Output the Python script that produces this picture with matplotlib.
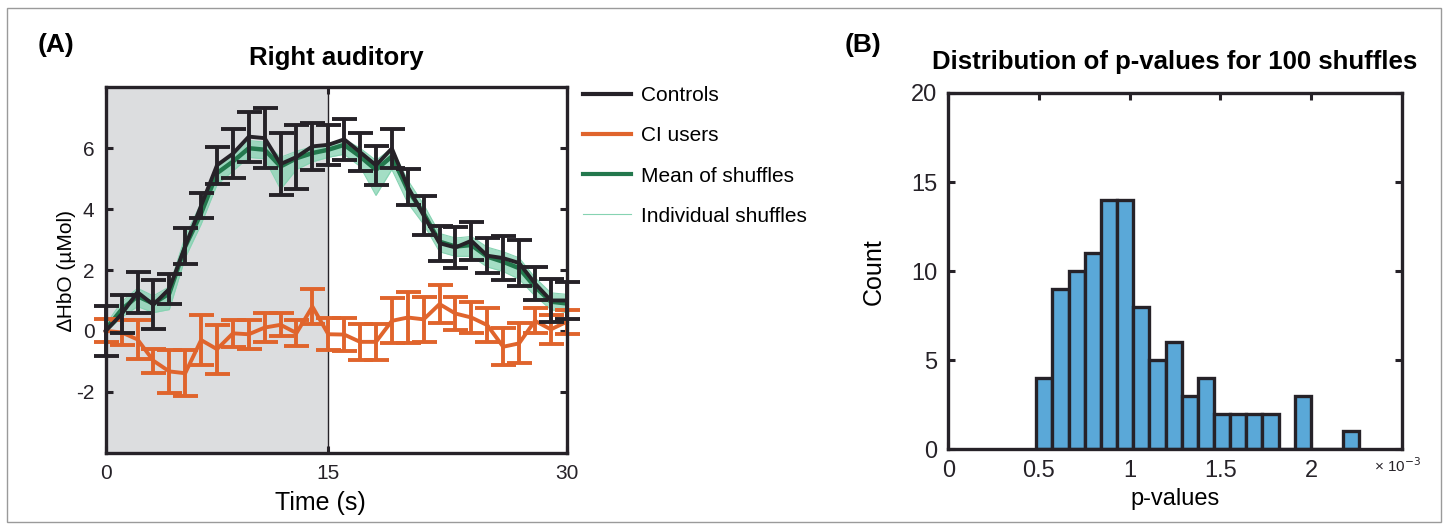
import numpy as np
import matplotlib
matplotlib.use("Agg")
import matplotlib.pyplot as plt
from matplotlib.lines import Line2D
from matplotlib.patches import Rectangle

plt.rcParams['font.family'] = ['Liberation Sans', 'DejaVu Sans']
plt.rcParams['axes.unicode_minus'] = False

# ---- panel A data (30 samples) ----
sample_idx = np.arange(30)
tick_pos = [0, 14, 29]
tick_lab = ['0', '15', '30']
stim_end = 14

controls_mean = [0.0, 0.55, 1.27, 0.86, 1.38, 2.78, 4.11, 5.44, 5.82, 6.38,
                 6.33, 5.48, 5.71, 6.06, 6.11, 6.29, 5.87, 5.44, 5.99, 4.73,
                 3.79, 2.88, 2.74, 2.96, 2.47, 2.39, 2.23, 1.56, 1.0, 1.0]
controls_err = [0.83, 0.63, 0.67, 0.81, 0.49, 0.59, 0.41, 0.6, 0.8, 0.82,
                0.98, 1.01, 1.06, 0.77, 0.66, 0.67, 0.63, 0.64, 0.64, 0.58,
                0.64, 0.57, 0.68, 0.63, 0.57, 0.73, 0.76, 0.55, 0.7, 0.6]

ci_mean = [0.0, -0.05, -0.28, -0.98, -1.33, -1.39, -0.3, -0.6, -0.08, -0.11,
           0.11, 0.2, -0.07, 0.8, -0.11, -0.12, -0.36, -0.36, 0.33, 0.44,
           0.38, 0.88, 0.57, 0.44, 0.19, -0.52, -0.41, 0.33, 0.05, 0.3]
ci_err = [0.38, 0.41, 0.63, 0.4, 0.71, 0.75, 0.82, 0.8, 0.44, 0.47,
          0.47, 0.38, 0.44, 0.58, 0.52, 0.53, 0.6, 0.6, 0.74, 0.85,
          0.74, 0.63, 0.55, 0.52, 0.55, 0.6, 0.66, 0.41, 0.47, 0.4]

shuffle_mean = [0.05, 0.7, 1.14, 0.9, 1.23, 2.77, 3.86, 5.18, 5.56, 6.0,
                5.95, 5.4, 5.67, 5.84, 5.95, 6.11, 5.73, 5.29, 5.73, 4.63,
                3.86, 2.93, 2.77, 2.82, 2.44, 2.27, 2.06, 1.45, 0.96, 0.9]
shuffle_hi = [0.2, 0.95, 1.4, 1.15, 1.45, 3.1, 4.2, 5.45, 5.85, 6.25,
              6.2, 5.7, 5.9, 6.05, 6.15, 6.3, 6.0, 5.6, 6.0, 4.95,
              4.15, 3.2, 3.05, 3.1, 2.75, 2.6, 2.4, 1.75, 1.25, 1.2]
shuffle_lo = [-0.05, 0.45, 0.8, 0.6, 0.7, 2.4, 3.5, 4.8, 5.25, 5.7,
              5.65, 4.65, 5.3, 5.55, 5.7, 5.8, 5.4, 4.45, 5.3, 4.2,
              3.5, 2.6, 2.45, 2.45, 2.1, 1.95, 1.7, 1.15, 0.7, 0.6]

# ---- panel B data: histogram of p-values ----
bin_left = 0.485e-3
bin_width = 0.0891e-3
counts = [4, 9, 10, 11, 14, 14, 8, 5, 6, 3, 4, 2, 2, 2, 2, 0, 3, 0, 0, 1]

BLACK = '#262228'
ORANGE = '#e0642c'
GREEN = '#23784d'
MINT = '#86d3b2'
SHADE = '#dcdddf'
BLUE = '#5aa8d8'
FS = 15

fig = plt.figure(figsize=(14.48, 5.29), dpi=100)
fig.patches.append(Rectangle((0.005, 0.013), 0.99, 0.972, transform=fig.transFigure,
                             fill=False, ec='#9a9a9a', lw=1))

ax1 = fig.add_axes([0.073, 0.1442, 0.3184, 0.6908])
ax1.axvspan(0, stim_end, color=SHADE, lw=0, zorder=0)
ax1.axvline(stim_end, color=BLACK, lw=1, zorder=1)
ax1.fill_between(sample_idx, shuffle_lo, shuffle_hi, color=MINT, alpha=0.75, lw=0, zorder=2)
ax1.plot(sample_idx, shuffle_lo, color=MINT, lw=0.8, zorder=2)
ax1.plot(sample_idx, shuffle_hi, color=MINT, lw=0.8, zorder=2)
ax1.plot(sample_idx, shuffle_mean, color=GREEN, lw=3.2, zorder=3)
ax1.errorbar(sample_idx, ci_mean, yerr=ci_err, color=ORANGE, lw=2.8,
             elinewidth=2.8, capsize=9, capthick=2.8, zorder=4, clip_on=False)
ax1.errorbar(sample_idx, controls_mean, yerr=controls_err, color=BLACK, lw=2.8,
             elinewidth=2.8, capsize=9, capthick=2.8, zorder=5, clip_on=False)

ax1.set_xlim(0, 29)
ax1.set_ylim(-4, 8)
ax1.set_xticks(tick_pos)
ax1.set_xticklabels(tick_lab)
ax1.set_yticks([-2, 0, 2, 4, 6])
ax1.set_xlabel('Time (s)', fontsize=18, labelpad=0)
ax1.xaxis.set_label_coords(0.465, -0.105)
ax1.set_ylabel('\u2206HbO (\u00b5Mol)', fontsize=FS)
ax1.yaxis.set_label_coords(-0.064, 0.5)
ax1.set_title('Right auditory', fontsize=18.5, fontweight='bold', pad=16)

ax2 = fig.add_axes([0.6549, 0.1507, 0.3131, 0.6735])
edges = bin_left + bin_width * np.arange(len(counts) + 1)
ax2.bar(edges[:-1], counts, width=bin_width, align='edge', color=BLUE,
        edgecolor=BLACK, lw=2.4, zorder=2)
ax2.set_xlim(0, 2.5e-3)
ax2.set_ylim(0, 20)
ax2.set_xticks([0, 0.5e-3, 1e-3, 1.5e-3, 2e-3])
ax2.set_xticklabels(['0', '0.5', '1', '1.5', '2'])
ax2.set_yticks([0, 5, 10, 15, 20])
ax2.set_xlabel('p-values', fontsize=17, labelpad=4)
ax2.set_ylabel('Count', fontsize=18)
ax2.yaxis.set_label_coords(-0.139, 0.5)
ax2.set_title('Distribution of p-values for 100 shuffles', fontsize=18.5,
              fontweight='bold', pad=17)
fig.text(1421 / 1448, 1 - 466 / 529, '\u00d7 10$^{-3}$', fontsize=11,
         ha='right', va='center', color=BLACK)

for ax, lsize in ((ax1, FS), (ax2, 17)):
    for s in ax.spines.values():
        s.set_linewidth(2.4)
        s.set_color(BLACK)
        s.set_zorder(6)
    ax.tick_params(direction='in', length=5, width=2.2, top=True, right=True,
                   labelsize=lsize, colors=BLACK, pad=8)

fig.text(0.026, 1 - 45 / 529, '(A)', fontsize=19, fontweight='bold', va='center')
fig.text(0.583, 1 - 45 / 529, '(B)', fontsize=19, fontweight='bold', va='center')

handles = [Line2D([], [], color=BLACK, lw=3),
           Line2D([], [], color=ORANGE, lw=3),
           Line2D([], [], color=GREEN, lw=3),
           Line2D([], [], color=MINT, lw=0.8)]
labels = ['Controls', 'CI users', 'Mean of shuffles', 'Individual shuffles']
ax1.legend(handles, labels, loc='upper left', bbox_to_anchor=(583 / 1448, 1 - 86 / 529),
           bbox_transform=fig.transFigure, frameon=False, fontsize=FS,
           handlelength=2.3, handletextpad=0.5, labelspacing=1.02,
           borderaxespad=0, borderpad=0)

fig.savefig('out.png', dpi=100)
